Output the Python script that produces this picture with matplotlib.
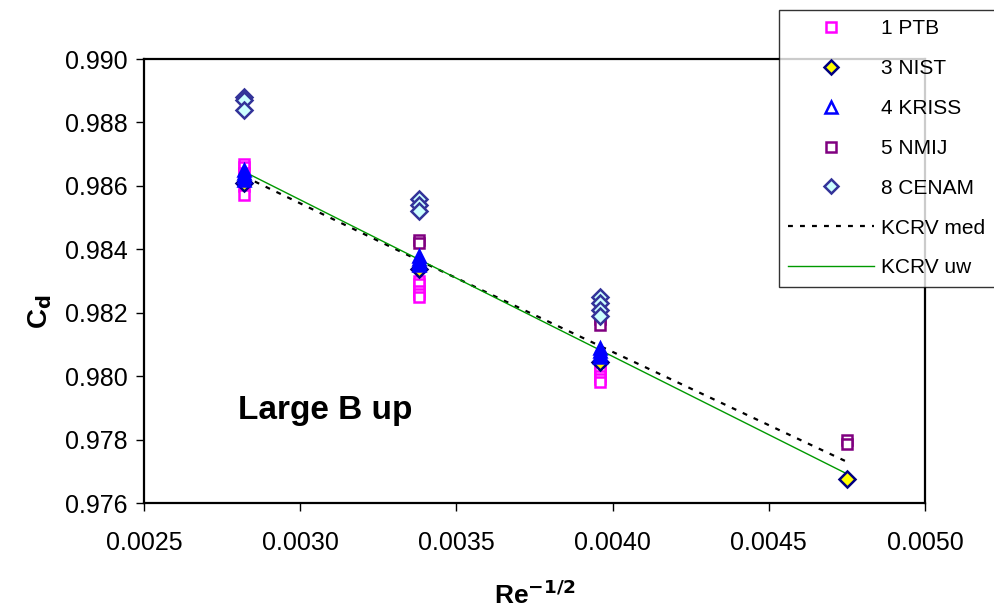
import matplotlib
matplotlib.use("Agg")
import matplotlib.pyplot as plt
from matplotlib.lines import Line2D
from matplotlib.ticker import FormatStrFormatter, MultipleLocator

plt.rcParams['font.family'] = ['Liberation Sans', 'DejaVu Sans']

# Data (x = Re^-1/2, y = Cd)
ptb_x = [0.00282]*6 + [0.00338]*5 + [0.00396]*5
ptb_y = [0.9867, 0.9866, 0.9864, 0.9862, 0.9860, 0.9857,
         0.9830, 0.9829, 0.9827, 0.9826, 0.9825,
         0.9803, 0.9802, 0.9800, 0.9799, 0.9798]

nist_x = [0.00282, 0.00338, 0.00396, 0.00475]
nist_y = [0.98610, 0.98338, 0.98045, 0.97676]

kriss_x = [0.00282]*4 + [0.00338]*4 + [0.00396]*4
kriss_y = [0.9865, 0.9864, 0.9863, 0.9862,
           0.9838, 0.9837, 0.9836, 0.9835,
           0.9809, 0.9808, 0.9807, 0.9806]

nmij_x = [0.00338, 0.00338, 0.00396, 0.00396, 0.00475, 0.00475]
nmij_y = [0.98430, 0.98420, 0.98180, 0.98160, 0.97800, 0.97785]

cenam_x = [0.00282]*3 + [0.00338]*3 + [0.00396]*4
cenam_y = [0.9888, 0.9887, 0.9884,
           0.9856, 0.9854, 0.9852,
           0.9825, 0.9823, 0.9821, 0.9819]

kcrv_x = [0.00282, 0.00338, 0.00396, 0.00475]
kcrv_med = [0.98630, 0.98365, 0.98095, 0.97730]
kcrv_uw = [0.98645, 0.98368, 0.98082, 0.97692]

fig = plt.figure(figsize=(9.95, 6.13), dpi=100)
ax = fig.add_axes([144/995, 1-503/613, (925-144)/995, (503-59)/613])

ms = 7.5
ax.plot(kcrv_x, kcrv_med, ls=(0, (2.2, 3.2)), color='black', lw=1.6, zorder=2)
ax.plot(kcrv_x, kcrv_uw, ls='-', color='#009900', lw=1.0, zorder=2)

ax.plot(ptb_x, ptb_y, ls='none', marker='s', ms=ms, mfc='white', mec='#FF00FF', mew=1.8, zorder=3)
ax.plot(nmij_x, nmij_y, ls='none', marker='s', ms=ms, mfc='white', mec='#800080', mew=1.8, zorder=3)
ax.plot(cenam_x, cenam_y, ls='none', marker='D', ms=ms+0.5, mfc='#CCFFFF', mec='#333399', mew=1.8, zorder=3)
ax.plot(nist_x, nist_y, ls='none', marker='D', ms=ms+0.5, mfc='#FFFF00', mec='#000080', mew=1.8, zorder=4)
ax.plot(kriss_x, kriss_y, ls='none', marker='^', ms=ms+1, mfc='#0000FF', mec='#0000FF', mew=1.8, zorder=5)

ax.set_xlim(0.0025, 0.0050)
ax.set_ylim(0.976, 0.990)
ax.xaxis.set_major_locator(MultipleLocator(0.0005))
ax.yaxis.set_major_locator(MultipleLocator(0.002))
ax.xaxis.set_major_formatter(FormatStrFormatter('%.4f'))
ax.yaxis.set_major_formatter(FormatStrFormatter('%.3f'))
ax.tick_params(direction='out', length=6, width=1, labelsize=18)
ax.tick_params(axis='x', pad=14)
ax.tick_params(axis='y', pad=6)
for s in ax.spines.values():
    s.set_linewidth(1.6)

ax.set_xlabel(r'Re$^{\mathbf{-1/2}}$', fontsize=19, fontweight='bold')
ax.xaxis.set_label_coords(0.5, -0.175)
ax.set_ylabel(r'C$_{\mathbf{d}}$', fontsize=20, fontweight='bold')
ax.yaxis.set_label_coords(-0.115, 0.43)
ax.text(0.0028, 0.97893, 'Large B up', fontsize=24, fontweight='bold', va='center', ha='left')

handles = [
    Line2D([], [], ls='none', marker='s', ms=ms, mfc='white', mec='#FF00FF', mew=1.8),
    Line2D([], [], ls='none', marker='D', ms=ms, mfc='#FFFF00', mec='#000080', mew=1.8),
    Line2D([], [], ls='none', marker='^', ms=ms+1, mfc='white', mec='#0000FF', mew=1.8),
    Line2D([], [], ls='none', marker='s', ms=ms, mfc='white', mec='#800080', mew=1.8),
    Line2D([], [], ls='none', marker='D', ms=ms, mfc='#CCFFFF', mec='#333399', mew=1.8),
    Line2D([], [], ls=(0, (2.2, 3.2)), color='black', lw=1.6),
    Line2D([], [], ls='-', color='#009900', lw=1.0),
]
labels = ['1 PTB', '3 NIST', '4 KRISS', '5 NMIJ', '8 CENAM', 'KCRV med', 'KCRV uw']
leg = fig.legend(handles, labels, loc='upper left', bbox_to_anchor=(779/995, 1-10/613),
                 frameon=True, fancybox=False, edgecolor='black', fontsize=15,
                 handlelength=4.1, labelspacing=1.0, borderpad=0.45, handletextpad=0.35,
                 borderaxespad=0)
leg.get_frame().set_linewidth(1.0)

fig.savefig('out.png', dpi=100, facecolor='white')
